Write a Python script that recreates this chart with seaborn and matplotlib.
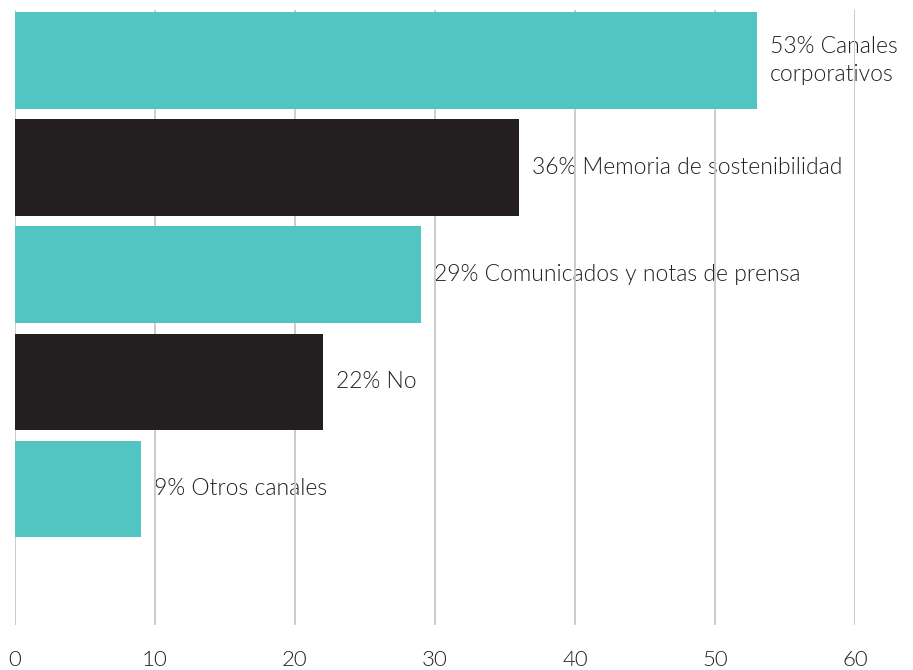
import matplotlib
matplotlib.use("Agg")
import matplotlib.pyplot as plt
import seaborn as sns
import pandas as pd

# Channels used to communicate, share of respondents (%)
categorias = ["Canales\ncorporativos", "Memoria de sostenibilidad",
              "Comunicados y notas de prensa", "No", "Otros canales"]
valores = [53, 36, 29, 22, 9]
colores = ["#52C4C1", "#231F20", "#52C4C1", "#231F20", "#52C4C1"]
ticks_x = [0, 10, 20, 30, 40, 50, 60]

TEXTO = "#231F20"

sns.set_theme(style="white")
plt.rcParams["font.family"] = ["Lato", "DejaVu Sans"]

df = pd.DataFrame({"categoria": categorias, "valor": valores})

fig = plt.figure(figsize=(9.13, 6.70), dpi=100)
ax = fig.add_axes([15 / 913, 1 - 625 / 670, 840 / 913, 615 / 670])

sns.barplot(data=df, x="valor", y="categoria", hue="categoria",
            palette=dict(zip(categorias, colores)), legend=False,
            orient="h", width=0.9, saturation=1, linewidth=0,
            ax=ax, zorder=1)

for i, (cat, val) in enumerate(zip(categorias, valores)):
    ax.text(val + 0.9, i, f"{val}% {cat}", ha="left", va="center",
            fontsize=16.5, color=TEXTO, fontweight=300,
            linespacing=1.4, zorder=0.3, clip_on=False)

ax.set_xlim(0, 60)
ax.set_ylim(5.27, -0.47)
ax.set_xticks(ticks_x)
ax.set_xticklabels([str(t) for t in ticks_x], fontsize=16, color=TEXTO,
                   fontweight=300)
ax.set_yticks([])
ax.set_xlabel("")
ax.set_ylabel("")
ax.set_axisbelow(True)
ax.grid(axis="x", color="#C8C8C8", linewidth=1.3)
ax.grid(axis="y", visible=False)
ax.tick_params(axis="x", length=0, pad=18)
for s in ax.spines.values():
    s.set_visible(False)

fig.savefig("out.png", dpi=100)
